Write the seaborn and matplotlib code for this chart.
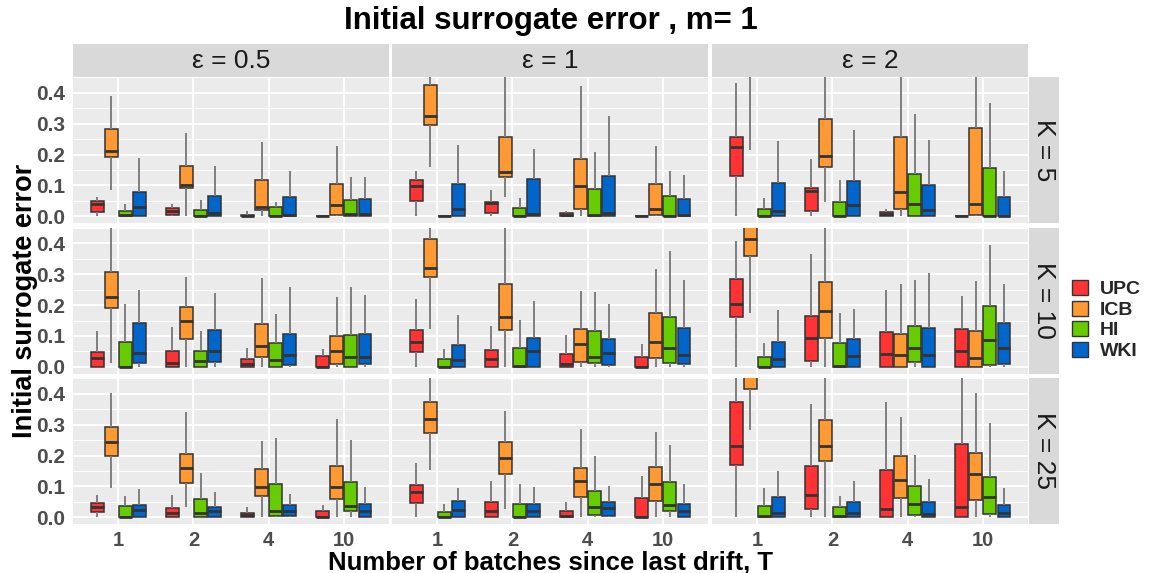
import numpy as np
import pandas as pd
import matplotlib
matplotlib.use("Agg")
import matplotlib.pyplot as plt
import seaborn as sns
from matplotlib.patches import Rectangle, Patch
from matplotlib.ticker import MultipleLocator

# ---------------- data ----------------
T_labels = ["1", "2", "4", "10"]
methods = ["UPC", "ICB", "HI", "WKI"]
eps_labels = ["ε = 0.5", "ε = 1", "ε = 2"]
K_labels = ["K = 5", "K = 10", "K = 25"]
colors = ["#FF3333", "#FF9933", "#66CC00", "#0066CC"]

# each tuple: (lower whisker, Q1, median, Q3, upper whisker) for T = 1, 2, 4, 10
e05_K5 = {
    "UPC": [(0, .013, .040, .049, .062), (0, .005, .018, .026, .040), (0, 0, .002, .006, .016), (0, 0, .001, .002, .005)],
    "ICB": [(.085, .192, .213, .283, .391), (0, .091, .103, .162, .270), (0, .022, .029, .118, .240), (0, .004, .036, .106, .229)],
    "HI":  [(0, 0, .005, .016, .040), (0, 0, .001, .022, .053), (0, 0, .001, .029, .048), (0, 0, .008, .053, .127)],
    "WKI": [(0, 0, .029, .080, .188), (0, 0, .010, .066, .164), (0, 0, .006, .064, .146), (0, 0, .007, .056, .127)],
}
e1_K5 = {
    "UPC": [(0, .051, .099, .118, .148), (0, .012, .042, .048, .085), (0, 0, .005, .010, .018), (0, 0, .001, .002, .003)],
    "ICB": [(.159, .296, .326, .424, .50), (.062, .126, .143, .257, .50), (0, .025, .097, .185, .422), (0, .004, .023, .104, .227)],
    "HI":  [(0, 0, 0, .001, .002), (0, 0, .001, .028, .059), (0, 0, .005, .090, .208), (0, 0, 0, .065, .148)],
    "WKI": [(0, 0, .024, .105, .232), (0, 0, .008, .120, .218), (0, 0, .011, .132, .324), (0, 0, .004, .055, .135)],
}
e2_K5 = {
    "UPC": [(0, .132, .226, .257, .432), (0, .017, .081, .092, .186), (0, 0, .008, .014, .024), (0, 0, .001, .002, .003)],
    "ICB": [(.216, .47, .50, .55, .60), (.045, .160, .196, .315, .50), (0, .025, .079, .256, .50), (0, .003, .039, .286, .50)],
    "HI":  [(0, 0, .001, .024, .061), (0, 0, 0, .048, .119), (0, 0, .041, .136, .331), (0, 0, 0, .157, .366)],
    "WKI": [(0, 0, .018, .109, .245), (0, 0, .038, .115, .280), (0, 0, .022, .102, .248), (0, 0, 0, .062, .148)],
}
e05_K10 = {
    "UPC": [(0, 0, .028, .049, .116), (0, 0, .011, .051, .129), (0, 0, .008, .027, .061), (0, 0, 0, .035, .058)],
    "ICB": [(.014, .190, .226, .308, .47), (0, .089, .150, .195, .292), (0, .032, .066, .138, .289), (0, .010, .050, .099, .226)],
    "HI":  [(0, 0, 0, .082, .205), (0, 0, .019, .050, .116), (0, 0, .022, .077, .171), (0, 0, .032, .104, .260)],
    "WKI": [(0, .012, .046, .141, .249), (0, .017, .051, .119, .240), (0, .005, .040, .108, .260), (0, .009, .031, .108, .233)],
}
e1_K10 = {
    "UPC": [(0, .047, .082, .120, .219), (0, 0, .026, .056, .133), (0, 0, .009, .041, .103), (0, 0, 0, .033, .075)],
    "ICB": [(.122, .292, .321, .413, .50), (0, .121, .160, .270, .50), (0, .016, .075, .123, .246), (0, .028, .080, .174, .318)],
    "HI":  [(0, 0, .001, .026, .057), (0, 0, .004, .061, .151), (0, .014, .033, .115, .243), (0, .014, .061, .161, .375)],
    "WKI": [(0, 0, .022, .070, .168), (0, 0, .050, .092, .215), (0, .006, .044, .090, .203), (0, .008, .039, .125, .283)],
}
e2_K10 = {
    "UPC": [(0, .163, .203, .284, .409), (0, .018, .092, .166, .366), (0, 0, .043, .112, .249), (0, 0, .050, .122, .228)],
    "ICB": [(.173, .359, .413, .47, .50), (0, .095, .181, .274, .50), (0, 0, .038, .107, .268), (0, 0, .030, .115, .278)],
    "HI":  [(0, 0, .001, .032, .078), (0, 0, .004, .077, .176), (0, .016, .062, .131, .281), (0, .006, .088, .196, .394)],
    "WKI": [(0, 0, .025, .080, .183), (0, 0, .034, .089, .189), (0, 0, .039, .125, .305), (0, .008, .062, .143, .267)],
}
e05_K25 = {
    "UPC": [(0, .016, .032, .047, .073), (0, 0, .014, .029, .071), (0, 0, .008, .014, .034), (0, 0, 0, .020, .039)],
    "ICB": [(.095, .200, .243, .293, .403), (.032, .112, .160, .204, .342), (0, .070, .098, .156, .246), (0, .061, .099, .167, .320)],
    "HI":  [(0, 0, .001, .036, .070), (0, 0, .014, .060, .144), (0, .004, .020, .108, .257), (0, .019, .037, .113, .250)],
    "WKI": [(0, 0, .023, .040, .093), (0, 0, .022, .034, .082), (0, .005, .020, .040, .077), (0, 0, .022, .043, .098)],
}
e1_K25 = {
    "UPC": [(0, .046, .083, .105, .177), (0, 0, .020, .051, .119), (0, 0, .004, .020, .050), (0, 0, 0, .064, .135)],
    "ICB": [(.153, .272, .320, .373, .50), (.028, .142, .192, .245, .344), (0, .065, .118, .160, .285), (0, .054, .107, .164, .275)],
    "HI":  [(0, 0, .001, .017, .042), (0, 0, .001, .042, .108), (0, .009, .035, .087, .198), (0, .022, .041, .113, .234)],
    "WKI": [(0, 0, .023, .053, .095), (0, 0, .019, .043, .097), (0, .005, .031, .051, .102), (0, 0, .022, .043, .107)],
}
e2_K25 = {
    "UPC": [(0, .170, .232, .375, .50), (0, .027, .072, .166, .368), (0, 0, .028, .154, .373), (0, 0, .033, .237, .50)],
    "ICB": [(.282, .416, .50, .55, .60), (0, .181, .232, .316, .50), (0, .064, .122, .199, .325), (0, .057, .140, .210, .403)],
    "HI":  [(0, 0, .004, .038, .094), (0, 0, .004, .033, .070), (0, .009, .044, .102, .203), (0, .010, .067, .132, .305)],
    "WKI": [(0, 0, .014, .066, .149), (0, 0, .015, .049, .119), (0, 0, .011, .050, .123), (0, 0, .014, .041, .094)],
}

panels = [[e05_K5, e1_K5, e2_K5],
          [e05_K10, e1_K10, e2_K10],
          [e05_K25, e1_K25, e2_K25]]

# ---------------- long table ----------------
rows = []
for r, row in enumerate(panels):
    for c, panel in enumerate(row):
        for m in methods:
            for t, stats in zip(T_labels, panel[m]):
                for v in stats:
                    rows.append({"row": r, "col": c, "method": m, "T": t, "value": v})
df = pd.DataFrame(rows)

# ---------------- styling ----------------
sns.set_style("white")
plt.rcParams["font.family"] = ["Liberation Sans", "DejaVu Sans"]

W, H = 1153, 573
fig = plt.figure(figsize=(W / 100, H / 100), dpi=100)

def fx(px):
    return px / W

def fy(py):
    return 1 - py / H

col_left = [73.3, 392.3, 712.3]
col_w = 315.5
row_top = [77.0, 227.5, 378.0]
row_h = 146.0
strip_top = 44.0
strip_right_w = 30.0

tick_color = "#4D4D4D"
line_color = "#333333"

for r in range(3):
    for c in range(3):
        ax = fig.add_axes([fx(col_left[c]), fy(row_top[r] + row_h), fx(col_w), row_h / H])
        ax.set_facecolor("#EBEBEB")
        sub = df[(df["row"] == r) & (df["col"] == c)]
        sns.boxplot(data=sub, x="T", y="value", hue="method", order=T_labels,
                    hue_order=methods, palette=colors, saturation=1, width=0.75, gap=0.1,
                    whis=(0, 100), showcaps=False, fliersize=0, linewidth=1.1,
                    linecolor=line_color, legend=False, ax=ax,
                    whiskerprops={"color": "#7F7F7F", "linewidth": 1.4},
                    medianprops={"color": line_color, "linewidth": 2.0},
                    boxprops={"edgecolor": line_color, "linewidth": 1.1})
        ax.set_xlim(-0.6, 3.6)
        ax.set_ylim(-0.0215, 0.4515)
        ax.yaxis.set_major_locator(MultipleLocator(0.1))
        ax.yaxis.set_minor_locator(MultipleLocator(0.05))
        ax.grid(True, which="major", color="white", linewidth=1.3)
        ax.grid(True, which="minor", axis="y", color="white", linewidth=0.7)
        ax.set_axisbelow(True)
        for s in ax.spines.values():
            s.set_visible(False)
        ax.set_xlabel("")
        ax.set_ylabel("")
        ax.tick_params(which="minor", length=0)
        if c == 0:
            ax.set_yticklabels([f"{v:.1f}" for v in ax.get_yticks()])
            ax.tick_params(axis="y", which="major", length=4, width=1, color=line_color,
                           labelsize=15, labelcolor=tick_color, pad=2)
            for lab in ax.get_yticklabels():
                lab.set_fontweight("bold")
        else:
            ax.tick_params(axis="y", which="major", length=0, labelleft=False)
        if r == 2:
            ax.tick_params(axis="x", length=4, width=1, color=line_color,
                           labelsize=14.5, labelcolor=tick_color, pad=1)
            for lab in ax.get_xticklabels():
                lab.set_fontweight("bold")
        else:
            ax.tick_params(axis="x", length=0, labelbottom=False)

# column strips
for c in range(3):
    fig.patches.append(Rectangle((fx(col_left[c]), fy(row_top[0])), fx(col_w),
                                 (row_top[0] - strip_top) / H, transform=fig.transFigure,
                                 facecolor="#D9D9D9", edgecolor="none"))
    fig.text(fx(col_left[c] + col_w / 2), fy((strip_top + row_top[0]) / 2), eps_labels[c],
             ha="center", va="center", fontsize=19, color="#1A1A1A")

# row strips
sx = col_left[2] + col_w + 1
for r in range(3):
    fig.patches.append(Rectangle((fx(sx), fy(row_top[r] + row_h)), fx(strip_right_w),
                                 row_h / H, transform=fig.transFigure,
                                 facecolor="#D9D9D9", edgecolor="none"))
    fig.text(fx(sx + strip_right_w / 2), fy(row_top[r] + row_h / 2), K_labels[r],
             ha="center", va="center", rotation=270, fontsize=19, color="#1A1A1A")

# titles
fig.text(fx(col_left[0] + (col_left[2] + col_w - col_left[0]) / 2), fy(21),
         "Initial surrogate error , m= 1", ha="center", va="center",
         fontsize=22.5, fontweight="bold", color="black")
fig.text(fx(col_left[0] + (col_left[2] + col_w - col_left[0]) / 2), fy(570),
         "Number of batches since last drift, T", ha="center", va="baseline",
         fontsize=18.5, fontweight="bold", color="black")
fig.text(fx(25), fy(row_top[0] + (row_top[2] + row_h - row_top[0]) / 2),
         "Initial surrogate error", ha="center", va="center", rotation=90,
         fontsize=19.5, fontweight="bold", color="black")

# legend
handles = [Patch(facecolor=col, edgecolor=line_color, linewidth=1.0, label=m)
           for m, col in zip(methods, colors)]
leg = fig.legend(handles=handles, loc="center left",
                 bbox_to_anchor=(fx(1054), fy(320)), frameon=False,
                 prop={"size": 14, "weight": "bold"}, handlelength=0.85,
                 handleheight=0.8, handletextpad=0.6, labelspacing=0.12)

fig.savefig("out.png", dpi=100)
